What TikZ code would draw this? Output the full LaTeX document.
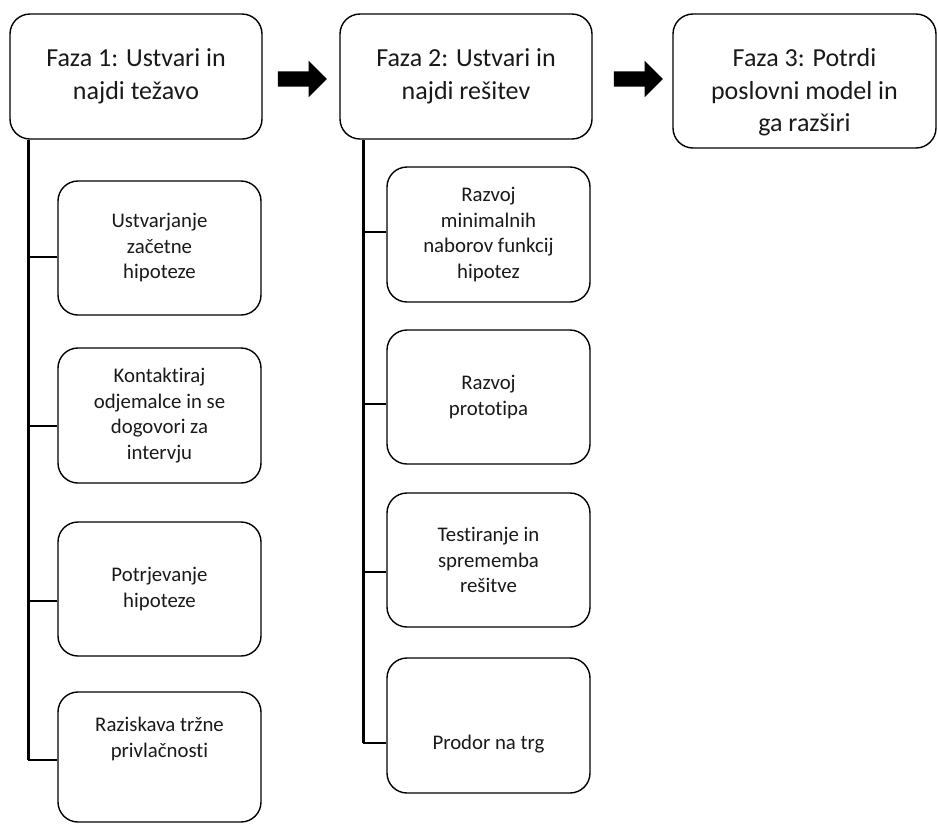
\documentclass[tikz,border=0pt]{standalone}
\usepackage{fontspec}
\setmainfont{Carlito}[Ligatures={NoCommon}]
\usetikzlibrary{positioning,shapes.arrows}

\begin{document}
\begin{tikzpicture}[x=1pt,y=1pt,
  phase/.style={draw,line width=1.4pt,rounded corners=20pt,align=center,
    minimum width=252pt,minimum height=125pt,
    font=\fontsize{26}{32.5}\selectfont,text=black!90},
  task/.style={draw,line width=1.4pt,rounded corners=20pt,align=center,
    minimum width=203pt,minimum height=134pt,
    font=\fontsize{20.8}{25.5}\selectfont,text=black!90},
  trunk/.style={line width=2.6pt},
  branch/.style={line width=1.4pt},
  blockarrow/.style={single arrow,fill=black,inner xsep=0pt,inner ysep=7.5pt,
    minimum height=49pt,single arrow head extend=10.5pt}]
\useasboundingbox (0,0) rectangle (938,-823);

% Phases
\node[phase] (f1) at (136,-76.5) {Faza 1: Ustvari in\\najdi težavo};
\node[phase] (f2) at (466,-76.5) {Faza 2: Ustvari in\\najdi rešitev};
\node[phase,minimum width=263pt,minimum height=134pt] (f3) at (804.5,-81)
  {\strut\\[-14pt]Faza 3: Potrdi\\poslovni model in\\ga razširi};

% Arrows between phases
\node[blockarrow,right=15pt of f1,yshift=-2.5pt] (p1) {};
\node[blockarrow,right=21pt of f2,yshift=-2.5pt] (p2) {};

% Steps of phase 1
\node[task] (a1) at (159.5,-248) {Ustvarjanje\\začetne\\hipoteze};
\node[task,minimum height=135pt] (a2) at (159.5,-415.5)
  {Kontaktiraj\\odjemalce in se\\dogovori za\\intervju};
\node[task] (a3) at (159.5,-589) {Potrjevanje\\hipoteze};
\node[task,minimum height=130pt] (a4) at (159.5,-757)
  {Raziskava tržne\\privlačnosti\\[6pt]\strut};

% Steps of phase 2
\node[task,minimum height=135pt] (b1) at (488.5,-234.5)
  {Razvoj\\minimalnih\\naborov funkcij\\hipotez};
\node[task] (b2) at (488.5,-397) {Razvoj\\prototipa};
\node[task] (b3) at (488.5,-560) {Testiranje in\\sprememba\\rešitve};
\node[task,minimum height=135pt] (b4) at (488.5,-725.5)
  {\strut\\[9pt]Prodor na trg};

% Trunk tops and branch points
\coordinate (t1) at ([xshift=19pt]f1.south west);
\coordinate (t2) at ([xshift=24pt]f2.south west);
\coordinate (a1b) at ([yshift=-9pt]a1.west);
\coordinate (a2b) at ([yshift=-10.5pt]a2.west);
\coordinate (a3b) at ([yshift=-12pt]a3.west);
\coordinate (a4b) at ([yshift=-3pt]a4.west);
\coordinate (b1b) at ([yshift=2.5pt]b1.west);
\coordinate (b2b) at ([yshift=-7pt]b2.west);
\coordinate (b3b) at ([yshift=-12pt]b3.west);
\coordinate (b4b) at ([yshift=-17.5pt]b4.west);

% Branches
\foreach \s in {a1b,a2b,a3b,a4b}
  \draw[branch] (\s) -- (t1 |- \s);
\foreach \s in {b1b,b2b,b3b,b4b}
  \draw[branch] (\s) -- (t2 |- \s);

% Trunks
\draw[trunk] (t1) -- (t1 |- a4b);
\draw[trunk] (t2) -- (t2 |- b4b);
\end{tikzpicture}
\end{document}
